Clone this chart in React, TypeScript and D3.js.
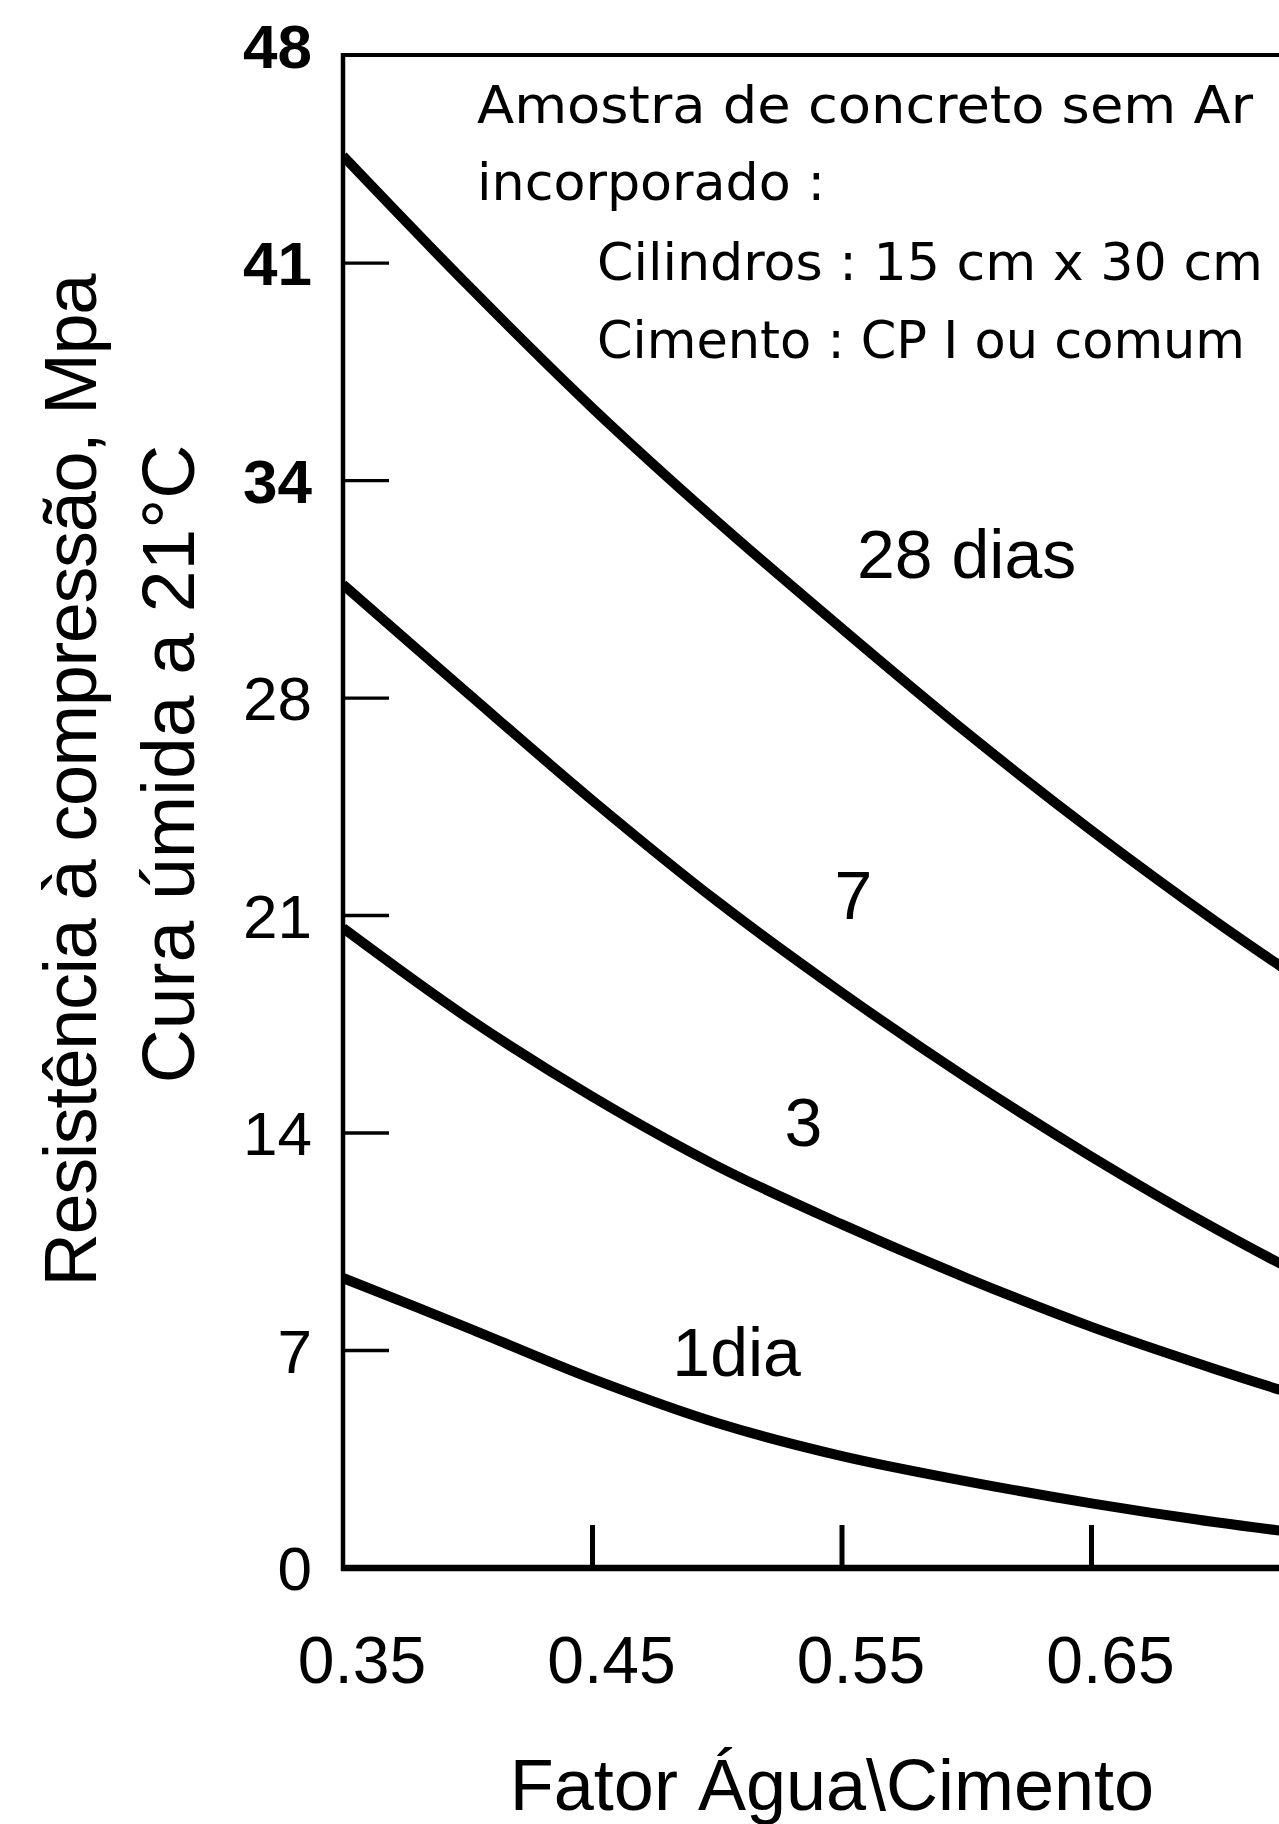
import React from 'react';
import * as d3 from 'd3';

// water/cement ratio and compressive strength (MPa)
const waterCement = [0.35, 0.4, 0.45, 0.5, 0.55, 0.6, 0.65, 0.7, 0.75];
const strength28 = [44.8, 40.7, 36.8, 33.2, 29.8, 26.5, 23.4, 20.5, 17.8];
const strength7 = [31.2, 27.75, 24.35, 21.15, 18.25, 15.55, 13.05, 10.75, 8.65];
const strength3 = [20.3, 17.45, 14.95, 12.75, 10.9, 9.2, 7.65, 6.3, 5.05];
const strength1 = [9.2, 7.62, 6.0, 4.6, 3.55, 2.75, 2.05, 1.45, 0.95];

// ticks are evenly spaced (1000 psi steps), labels are the MPa values
const yTickValues = [0, 6.9, 13.8, 20.7, 27.6, 34.5, 41.4, 48.3];
const yTickLabels = ['0', '7', '14', '21', '28', '34', '41', '48'];
const xTickValues = [0.35, 0.45, 0.55, 0.65];
const xTickLabels = ['0.35', '0.45', '0.55', '0.65'];

const width = 1279;
const height = 1824;
const font = '"Liberation Sans", Arial, Helvetica, sans-serif';
const noteFont = '"DejaVu Sans", Verdana, sans-serif';

export default function App() {
  const x = d3.scaleLinear().domain([0.35, 0.75]).range([343, 1341]);
  const y = d3.scaleLinear().domain([0, 48]).range([1568, 55]);

  const line = d3
    .line<number>()
    .x((d, i) => x(waterCement[i]))
    .y(d => y(d))
    .curve(d3.curveCatmullRom.alpha(0.5));

  const series = [strength28, strength7, strength3, strength1];

  const x0 = x(0.35);
  const y0 = y(0);
  const yTop = y(48);

  return (
    <svg
      width={width}
      height={height}
      style={{ position: 'absolute', left: 0, top: 0, display: 'block', background: '#fff' }}
      fontFamily={font}
    >
      <defs>
        <clipPath id="plot">
          <rect x={x0} y={yTop} width={x(0.75) - x0} height={y0 - yTop} />
        </clipPath>
      </defs>
      <rect x={0} y={0} width={width} height={height} fill="#fff" />

      {/* curves */}
      <g clipPath="url(#plot)">
        {series.map((s, i) => (
          <path key={i} d={line(s) || ''} fill="none" stroke="#000" strokeWidth={10} strokeLinejoin="round" />
        ))}
      </g>

      {/* frame */}
      <line x1={x0} x2={x(0.75)} y1={yTop} y2={yTop} stroke="#000" strokeWidth={4} />
      <line x1={x0} x2={x0} y1={yTop - 2} y2={y0 + 3} stroke="#000" strokeWidth={4.5} />
      <line x1={x0 - 2} x2={x(0.75)} y1={y0} y2={y0} stroke="#000" strokeWidth={6.5} />

      {/* y ticks */}
      {yTickValues.map((v, i) => (
        <g key={'y' + i}>
          {i > 0 && i < yTickValues.length - 1 && (
            <line x1={x0} x2={x0 + 46} y1={y(v)} y2={y(v)} stroke="#000" strokeWidth={3.3} />
          )}
          <text
            x={312}
            y={y(v)}
            dy="0.36em"
            textAnchor="end"
            fontSize={62}
            fontWeight={v >= 34 ? 'bold' : 'normal'}
          >
            {yTickLabels[i]}
          </text>
        </g>
      ))}

      {/* x ticks */}
      {xTickValues.map((v, i) => (
        <g key={'x' + i}>
          {i > 0 && <line x1={x(v)} x2={x(v)} y1={y0} y2={y0 - 43} stroke="#000" strokeWidth={5} />}
          <text x={x(v) + 19} y={1683} textAnchor="middle" fontSize={66}>
            {xTickLabels[i]}
          </text>
        </g>
      ))}

      {/* curve labels */}
      <text x={x(0.556)} y={y(31.4)} fontSize={68}>28 dias</text>
      <text x={x(0.547)} y={y(20.6)} fontSize={68}>7</text>
      <text x={x(0.527)} y={y(13.4)} fontSize={68}>3</text>
      <text x={x(0.482)} y={y(6.1)} fontSize={68}>1dia</text>

      {/* note */}
      <g fontSize={52} fontFamily={noteFont}>
        <text x={477} y={123} textLength={776} lengthAdjust="spacingAndGlyphs">Amostra de concreto sem Ar</text>
        <text x={477} y={200} textLength={348} lengthAdjust="spacingAndGlyphs">incorporado :</text>
        <text x={597} y={280} textLength={666} lengthAdjust="spacingAndGlyphs">Cilindros : 15 cm x 30 cm</text>
        <text x={597} y={358} textLength={648} lengthAdjust="spacingAndGlyphs">Cimento : CP I ou comum</text>
      </g>

      {/* axis titles */}
      <text
        transform="translate(96,780) rotate(-90)"
        textAnchor="middle"
        fontSize={74}
        textLength={1013}
        lengthAdjust="spacing"
      >
        Resistência à compressão, Mpa
      </text>
      <text transform="translate(194,764) rotate(-90)" textAnchor="middle" fontSize={75}>
        Cura úmida a 21°C
      </text>
      <text x={832} y={1810} textAnchor="middle" fontSize={72}>
        Fator Água\Cimento
      </text>
    </svg>
  );
}
